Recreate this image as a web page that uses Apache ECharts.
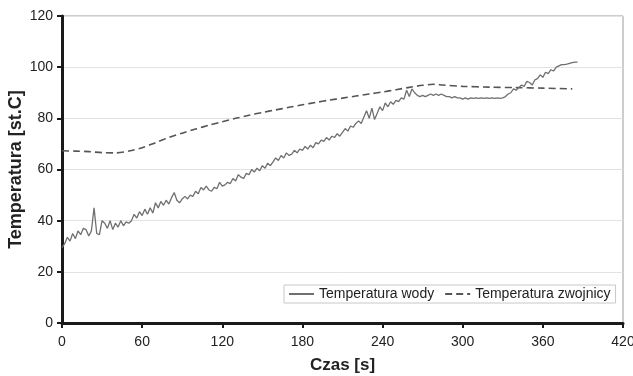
<!DOCTYPE html>
<html><head><meta charset="utf-8">
<script src="https://cdn.jsdelivr.net/npm/echarts@6/dist/echarts.min.js"></script>
<style>html,body{margin:0;padding:0;background:#fff}#c{width:633px;height:376px}</style>
</head><body><div id="c"></div>
<script>
var xTicks = [0, 60, 120, 180, 240, 300, 360, 420];
var yTicks = [0, 20, 40, 60, 80, 100, 120];
var waterTime = [0,2,4,6,8,10,12,14,16,18,20,22,24,26,28,30,32,34,36,38,40,42,44,46,48,50,52,54,56,58,60,62,64,66,68,70,72,74,76,78,80,82,84,86,88,90,92,94,96,98,100,102,104,106,108,110,112,114,116,118,120,122,124,126,128,130,132,134,136,138,140,142,144,146,148,150,152,154,156,158,160,162,164,166,168,170,172,174,176,178,180,182,184,186,188,190,192,194,196,198,200,202,204,206,208,210,212,214,216,218,220,222,224,226,228,230,232,234,236,238,240,242,244,246,248,250,252,254,256,258,260,262,264,266,268,270,272,274,276,278,280,282,284,286,288,290,292,294,296,298,300,302,304,306,308,310,312,314,316,318,320,322,324,326,328,330,332,334,336,338,340,342,344,346,348,350,352,354,356,358,360,362,364,366,368,370,372,374,376,378,380,382,384,386];
var waterTemp = [29.5,31,33.5,32,35,33,36,34.5,37,36.5,34,36,45,35,34.5,40,39,37,40,36.5,39,37.5,40,38,39.5,39,40,42.5,41,43.5,42,44.5,42.5,45,43,47,45,47.5,46,48,46.5,49,51,48,47,48.5,49.5,48.5,50,49.5,51.5,50.5,53,52,53.5,52,51.5,53,52.5,55,53.5,54,55,54.5,56.5,55.5,58,57,56.5,58.5,58,60,59,60.5,59.5,61.5,60.5,62.5,61.5,63,64.5,63.5,65.5,64.5,66.5,65.5,66,67.5,66.5,68,67.5,69,68,69.5,68.5,70.5,70,71.5,71,72.5,71.5,73,72.5,74,73,74.5,76,75,77,76.5,78,79,78,80.5,83,80,84,79.5,82,84.5,83,86,84.5,86.5,85.5,87,86.5,88,87.5,91,88.5,91.5,90,89,88.5,89,88.5,89,89.5,89,89.5,89,89.5,89,88.5,88.5,88,88.5,88,88,87.5,88,87.5,88,87.8,88,87.8,88,87.8,88,87.8,88,87.8,88,87.8,88,88.5,89.5,90,91.5,91,92,93,92.5,94.5,94,93,95,95.5,97,96,98,97.5,99,98.5,100,100.5,101,101,101.2,101.5,101.8,102,102];
var coilTime = [0,10,20,30,40,50,60,70,80,90,100,110,120,130,140,150,160,170,180,190,200,210,220,230,240,250,260,270,278,285,300,320,340,360,382];
var coilTemp = [67.3,67.2,67,66.6,66.5,67.2,68.5,70.5,72.5,74.2,75.8,77.3,78.7,80,81.2,82.3,83.3,84.3,85.3,86.2,87.1,87.9,88.7,89.5,90.3,91.2,92.1,92.9,93.3,93,92.5,92.2,92,91.8,91.5];
var seriesNames = ['Temperatura wody', 'Temperatura zwojnicy'];

function pairs(a, b) { return a.map(function (v, i) { return [v, b[i]]; }); }

var FONT = '"Liberation Sans", Arial, sans-serif';
var chart = echarts.init(document.getElementById('c'), null, {renderer: 'canvas'});
chart.setOption({
  animation: false,
  backgroundColor: '#fff',
  grid: {left: 62, right: 10, top: 16, bottom: 53, show: true, borderColor: '#9a9a9a', borderWidth: 1,
         containLabel: false, outerBoundsMode: 'none'},
  legend: {
    show: true, left: 284, top: 285, orient: 'horizontal',
    padding: [2, 5, 2, 4], itemGap: 10, itemWidth: 25, itemHeight: 14,
    borderColor: '#c8c8c8', borderWidth: 1, borderRadius: 0, backgroundColor: '#fff',
    itemStyle: {opacity: 0},
    textStyle: {fontFamily: FONT, fontSize: 14, color: '#222'},
    data: seriesNames
  },
  xAxis: {
    type: 'value', min: 0, max: 420, interval: 60,
    name: 'Czas [s]', nameLocation: 'middle', nameGap: 34, nameMoveOverlap: false,
    nameTextStyle: {fontFamily: FONT, fontSize: 17, fontWeight: 'bold', color: '#222'},
    axisLine: {show: true, lineStyle: {color: '#1a1a1a', width: 3}},
    axisTick: {show: true, length: 5, lineStyle: {color: '#1a1a1a', width: 2}},
    axisLabel: {fontFamily: FONT, fontSize: 14, color: '#222', margin: 12},
    splitLine: {show: false}
  },
  yAxis: {
    type: 'value', min: 0, max: 120, interval: 20,
    name: 'Temperatura [st.C]', nameLocation: 'middle', nameGap: 37, nameMoveOverlap: false,
    nameTextStyle: {fontFamily: FONT, fontSize: 18, fontWeight: 'bold', color: '#222'},
    axisLine: {show: true, lineStyle: {color: '#1a1a1a', width: 3}},
    axisTick: {show: true, length: 5, lineStyle: {color: '#1a1a1a', width: 2}},
    axisLabel: {fontFamily: FONT, fontSize: 14, color: '#222', margin: 9},
    splitLine: {show: true, lineStyle: {color: '#e2e2e2', width: 1}}
  },
  series: [
    {name: seriesNames[0], type: 'line', data: pairs(waterTime, waterTemp), showSymbol: false, symbol: 'none',
     lineStyle: {color: '#707070', width: 1.3}, itemStyle: {color: '#707070'}, z: 3},
    {name: seriesNames[1], type: 'line', data: pairs(coilTime, coilTemp), showSymbol: false, symbol: 'none', smooth: 0.3,
     lineStyle: {color: '#555', width: 1.6, type: [7, 4]}, itemStyle: {color: '#555'}, z: 2}
  ]
});
</script></body></html>
